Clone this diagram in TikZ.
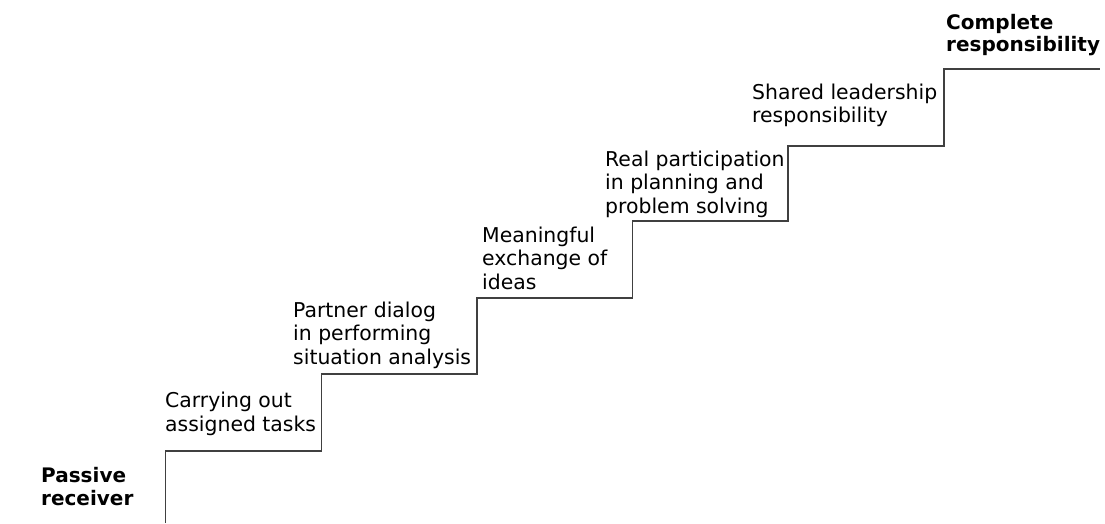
\documentclass[tikz,border=0pt]{standalone}
\usepackage{fontspec}
\setmainfont{DejaVu Sans}
\tikzset{
  stair/.style={line width=1.2pt, black!75},
  steplabel/.style={anchor=base west, align=left, inner sep=0pt, font=\fontsize{20.4}{23.5}\selectfont},
  endlabel/.style={anchor=base west, align=left, inner sep=0pt, font=\fontsize{20}{22.4}\selectfont\bfseries}
}

\begin{document}
\begin{tikzpicture}[x=1pt,y=1pt]
\useasboundingbox (0,0) rectangle (1105,523);
\coordinate (s0) at (165.5,0);
\coordinate (s1) at (165.5,72);
\coordinate (s2) at (321.5,149);
\coordinate (s3) at (477,225);
\coordinate (s4) at (632.5,302);
\coordinate (s5) at (788,377);
\coordinate (s6) at (944,454);
\coordinate (top) at (1100,454);
\draw[stair] (s0) -- (s1) -| (s2) -| (s3) -| (s4) -| (s5) -| (s6) -- (top);
\node[endlabel] (passive) at (41,18) {Passive\\receiver};
\node[steplabel] (carry) at (165,92) {Carrying out\\assigned tasks};
\node[steplabel] (dialog) at (293,159) {Partner dialog\\in performing\\situation analysis};
\node[steplabel] (ideas) at (482,234) {Meaningful\\exchange of\\ideas};
\node[steplabel] (plan) at (605,310) {Real participation\\in planning and\\problem solving};
\node[steplabel] (shared) at (752,400) {Shared leadership\\responsibility};
\node[endlabel] (complete) at (946,471.5) {Complete\\responsibility};
\end{tikzpicture}
\end{document}
